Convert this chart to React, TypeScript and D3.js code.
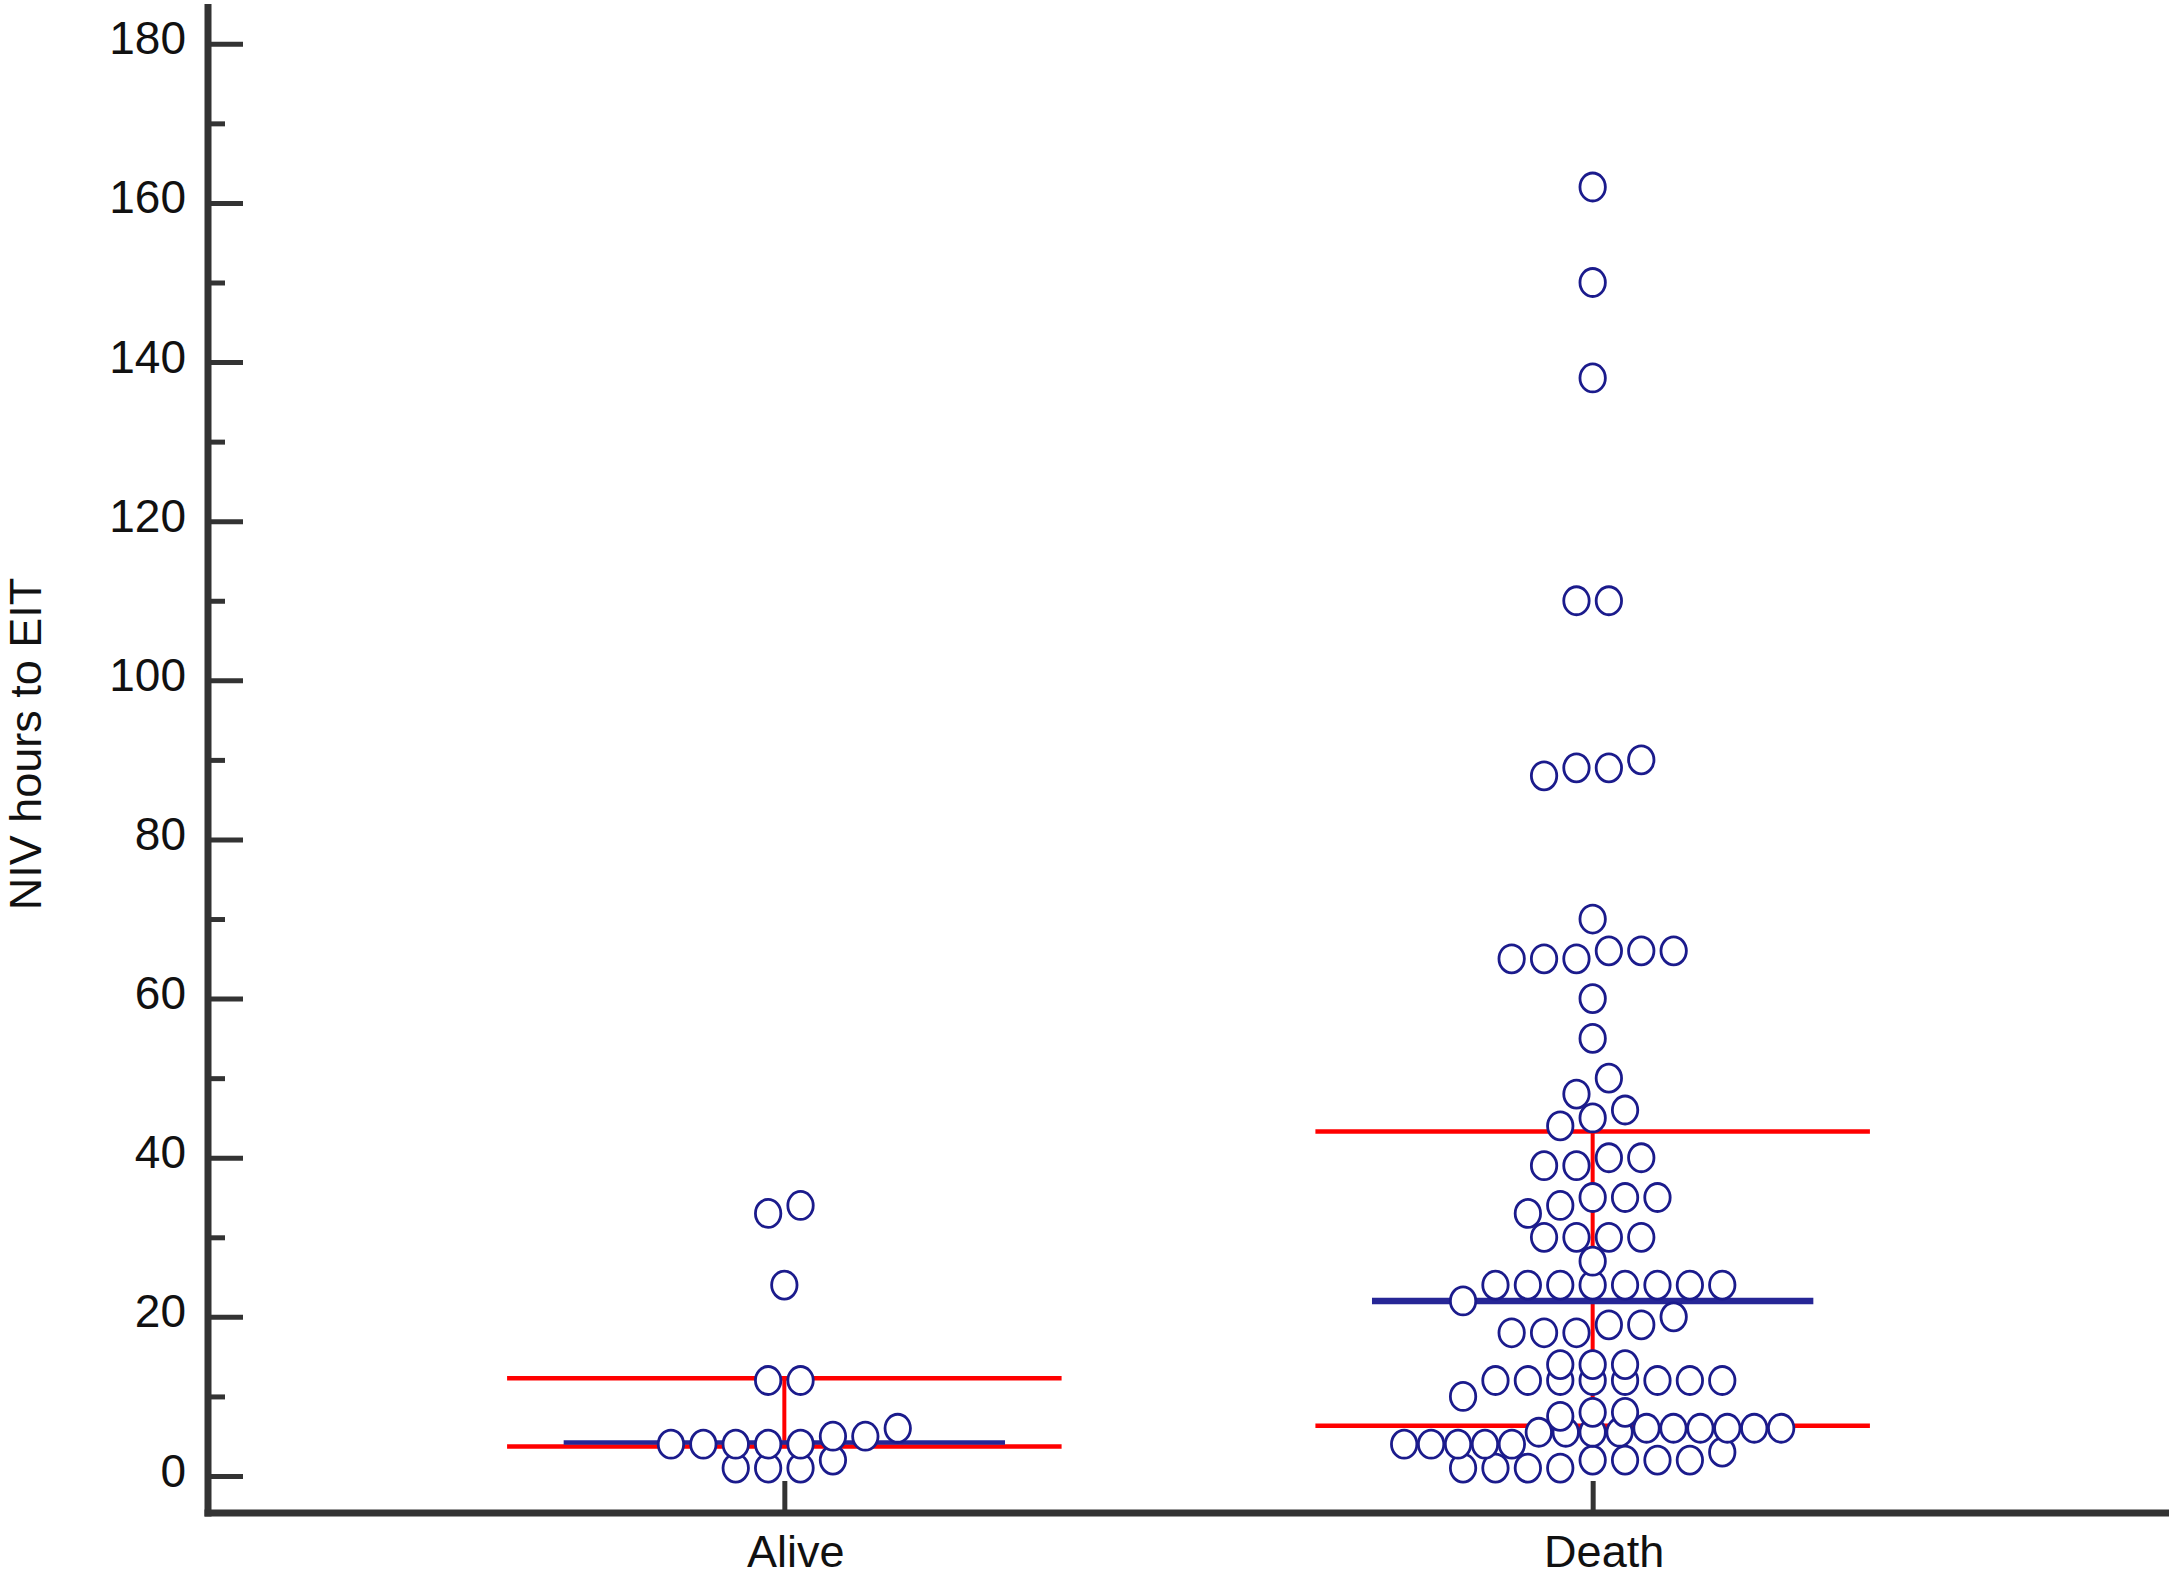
import * as d3 from 'd3';
import { useEffect, useRef } from 'react';

const W = 2175;
const H = 1577;

// categories and raw values (hours)
const groups = ['Alive', 'Death'];
const aliveHours = [1, 1, 1, 2, 4, 4, 4, 4, 4, 5, 5, 6, 12, 12, 24, 33, 34];
const deathHours = [
  1, 1, 1, 1, 2, 2, 2, 2, 3,
  4, 4, 4, 4, 4, 5.5, 5.5, 5.5, 5.5, 6, 6, 6, 6, 6, 6,
  7.5, 8, 8,
  10, 12, 12, 12, 12, 12, 12, 12, 12,
  14, 14, 14,
  18, 18, 18, 19, 19, 20,
  22, 24, 24, 24, 24, 24, 24, 24, 24,
  27,
  30, 30, 30, 30,
  33, 34, 35, 35, 35,
  39, 39, 40, 40,
  44, 45, 46,
  48, 50,
  55, 60,
  65, 65, 65, 66, 66, 66,
  70,
  88, 89, 89, 90,
  110, 110,
  138, 150, 162,
];

// summary lines: median (blue) and quartiles (red)
const medianHours = [4.2, 22];
const lowerQuart = [3.7, 6.3];
const upperQuart = [12.3, 43.3];

const yMajor = [0, 20, 40, 60, 80, 100, 120, 140, 160, 180];
const yMinor = [10, 30, 50, 70, 90, 110, 130, 150, 170];

const FONT = '"Liberation Sans", Arial, sans-serif';
const DOT = '#1b1b8c';

// values that lie close together share one row, the row is spread sideways around the centre
function dotRows(values, bin, gap, maxSpan) {
  const sorted = [...values].sort((a, b) => a - b);
  const rows = [];
  let row = null;
  sorted.forEach(v => {
    if (!row || v - row[0] > bin) {
      row = [];
      rows.push(row);
    }
    row.push(v);
  });
  const out = [];
  rows.forEach(r => {
    const n = r.length;
    const g = n > 1 ? Math.min(gap, maxSpan / (n - 1)) : gap;
    r.forEach((v, i) => out.push({ value: v, dx: (i - (n - 1) / 2) * g }));
  });
  return out;
}

const DotPlot = () => {
  const chartRef = useRef(null);

  const margin = { top: 4, bottom: 64, left: 208, right: 6 };

  useEffect(() => {
    const svg = d3.select(chartRef.current);
    svg.selectAll('*').remove();

    const x = d3.scalePoint()
      .domain(groups)
      .range([margin.left, W - margin.right])
      .padding(0.713);

    const y = d3.scaleLinear()
      .domain([-4.65, 185])
      .range([H - margin.bottom, margin.top]);

    const step = x.step();

    // y axis: ticks point inwards, labels on the left
    const yAxis = svg.append('g')
      .attr('transform', `translate(${margin.left},0)`)
      .call(d3.axisLeft(y).tickValues(yMajor).tickSizeInner(-35).tickSizeOuter(0).tickPadding(22));
    yAxis.select('.domain').remove();
    yAxis.selectAll('line').attr('stroke', '#333').attr('stroke-width', 5);
    yAxis.selectAll('text')
      .attr('dy', 10)
      .attr('fill', '#111')
      .style('font-family', FONT)
      .style('font-size', '46px');

    const yMinorAxis = svg.append('g')
      .attr('transform', `translate(${margin.left},0)`)
      .call(d3.axisLeft(y).tickValues(yMinor).tickSizeInner(-17).tickSizeOuter(0).tickFormat(() => ''));
    yMinorAxis.select('.domain').remove();
    yMinorAxis.selectAll('line').attr('stroke', '#333').attr('stroke-width', 5);

    // x axis ticks (upwards) and labels
    const xAxis = svg.append('g')
      .attr('transform', `translate(0,${H - margin.bottom})`)
      .call(d3.axisBottom(x).tickSizeInner(-32).tickSizeOuter(0).tickPadding(24));
    xAxis.select('.domain').remove();
    xAxis.selectAll('line').attr('stroke', '#333').attr('stroke-width', 5);
    xAxis.selectAll('text')
      .attr('dx', 11)
      .attr('y', 54)
      .attr('dy', 0)
      .attr('fill', '#111')
      .style('font-family', FONT)
      .style('font-size', '45px');

    // axis lines
    svg.append('line')
      .attr('x1', margin.left).attr('x2', margin.left)
      .attr('y1', margin.top).attr('y2', H - margin.bottom + 3.5)
      .attr('stroke', '#333').attr('stroke-width', 7);
    svg.append('line')
      .attr('x1', margin.left - 3.5).attr('x2', W - margin.right)
      .attr('y1', H - margin.bottom).attr('y2', H - margin.bottom)
      .attr('stroke', '#333').attr('stroke-width', 7);

    // axis title
    svg.append('text')
      .attr('transform', `translate(41,${y(92)}) rotate(-90)`)
      .attr('text-anchor', 'middle')
      .attr('fill', '#111')
      .style('font-family', FONT)
      .style('font-size', '45px')
      .text('NIV hours to EIT');

    // quartile lines (red) and median (blue)
    groups.forEach((g, i) => {
      const cx = x(g);
      const redHalf = step * 0.343;
      const blueHalf = step * 0.273;
      [lowerQuart[i], upperQuart[i]].forEach(q => {
        svg.append('line')
          .attr('x1', cx - redHalf).attr('x2', cx + redHalf)
          .attr('y1', y(q)).attr('y2', y(q))
          .attr('stroke', '#ff0000').attr('stroke-width', 4.5);
      });
      svg.append('line')
        .attr('x1', cx).attr('x2', cx)
        .attr('y1', y(lowerQuart[i])).attr('y2', y(upperQuart[i]))
        .attr('stroke', '#ff0000').attr('stroke-width', 4);
      svg.append('line')
        .attr('x1', cx - blueHalf).attr('x2', cx + blueHalf)
        .attr('y1', y(medianHours[i])).attr('y2', y(medianHours[i]))
        .attr('stroke', '#262696').attr('stroke-width', i == 0 ? 4.5 : 6.5);
    });

    // the dots (a little taller than wide, as in the original)
    const series = [aliveHours, deathHours];
    groups.forEach((g, i) => {
      const pts = dotRows(series[i], 2.4, 32.4, 377);
      svg.append('g')
        .selectAll('ellipse')
        .data(pts)
        .enter()
        .append('ellipse')
        .attr('cx', d => x(g) + d.dx)
        .attr('cy', d => y(d.value))
        .attr('rx', 12.7)
        .attr('ry', 14)
        .attr('fill', 'white')
        .attr('stroke', DOT)
        .attr('stroke-width', 2.8);
    });
  }, []);

  return (
    <svg ref={chartRef} width={W} height={H}
      style={{ position: 'absolute', left: 0, top: 0, background: 'white' }}>
    </svg>
  );
};

export default function App() {
  return <DotPlot />;
}
